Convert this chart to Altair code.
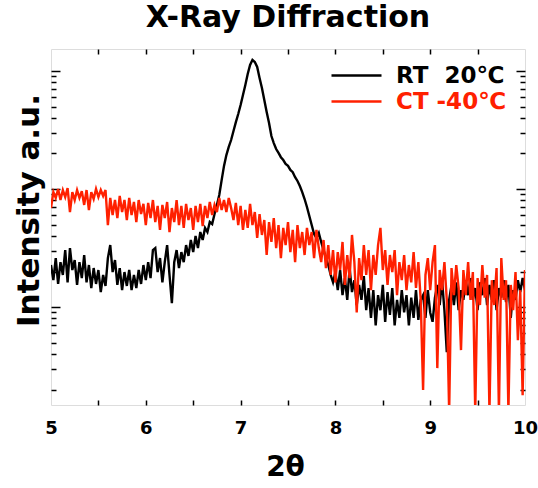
import altair as alt
import pandas as pd

# ---- data ----
TWO_THETA = [round(5 + 0.025 * i, 3) for i in range(201)]

RT_20C = [
    227, 169, 260, 157, 240, 187, 304, 162, 316, 206,
    250, 154, 240, 176, 276, 162, 227, 145, 214, 157,
    206, 134, 187, 151, 260, 335, 198, 250, 154, 214,
    139, 198, 151, 206, 139, 187, 145, 206, 157, 227,
    169, 240, 176, 304, 316, 198, 260, 162, 240, 335,
    187, 108, 240, 304, 214, 292, 240, 335, 271, 370,
    292, 400, 316, 432, 370, 468, 432, 525, 505, 614,
    733, 890, 1190, 1570, 1940, 2270, 2600, 3100, 3690, 4320,
    5150, 6260, 7610, 9430, 11250, 12400, 11920, 10810, 8730, 7180,
    5680, 4490, 3630, 2810, 2450, 2180, 2020, 1860, 1760, 1630,
    1570, 1450, 1390, 1260, 1170, 1060, 942, 823, 704, 590,
    495, 416, 385, 424, 356, 304, 260, 227, 187, 162,
    198, 139, 206, 126, 176, 115, 214, 134, 169, 104,
    154, 115, 183, 94, 145, 81, 139, 70, 126, 94,
    154, 75, 134, 86, 145, 70, 115, 81, 139, 90,
    126, 70, 120, 81, 139, 78, 115, 126, 81, 139,
    90, 75, 120, 154, 104, 169, 94, 41.5, 115, 154,
    104, 162, 94, 139, 115, 169, 126, 176, 115, 145,
    94, 162, 126, 176, 104, 154, 115, 169, 94, 145,
    120, 169, 110, 154, 81, 139, 115, 169, 134, 176,
    139,
]

CT_M40C = [
    690, 942, 840, 1000, 807, 980, 855, 1020, 638, 942,
    807, 980, 840, 960, 733, 980, 664, 942, 823, 1000,
    855, 980, 873, 980, 495, 840, 602, 807, 568, 873,
    638, 807, 546, 840, 602, 776, 525, 807, 614, 748,
    495, 762, 568, 807, 525, 719, 450, 733, 568, 776,
    432, 690, 525, 807, 495, 719, 468, 748, 546, 690,
    450, 719, 525, 748, 485, 719, 568, 776, 602, 733,
    638, 840, 664, 807, 638, 840, 690, 546, 762, 495,
    719, 450, 664, 468, 748, 495, 638, 385, 614, 408,
    546, 276, 525, 356, 568, 316, 495, 260, 468, 335,
    525, 292, 450, 240, 495, 316, 432, 276, 468, 335,
    432, 260, 450, 316, 240, 370, 214, 335, 187, 304,
    162, 292, 206, 356, 154, 276, 176, 408, 240, 90,
    260, 169, 335, 187, 304, 139, 276, 187, 335, 468,
    206, 304, 154, 276, 198, 304, 126, 240, 169, 276,
    139, 227, 162, 292, 145, 240, 115, 19.8, 187, 260,
    139, 240, 335, 30.4, 206, 139, 240, 115, 13, 214,
    126, 227, 145, 43.2, 206, 126, 240, 115, 198, 13,
    176, 104, 227, 120, 187, 13, 169, 104, 214, 13,
    260, 115, 169, 13, 154, 94, 198, 52.5, 139, 17.9,
    206,
]

SERIES = ["RT \u00a020℃", "CT -40℃"]
COLORS = ["#000000", "#ff2000"]

X_LABEL_TICKS = [5, 6, 7, 8, 9, 10]
X_MINOR_TICKS = [5.5, 6, 6.5, 7, 7.5, 8, 8.5, 9, 9.5]
Y_TICKS = [20, 30, 40, 50, 60, 70, 80, 90,
           100, 200, 300, 400, 500, 600, 700, 800, 900,
           1000, 2000, 3000, 4000, 5000, 6000, 7000, 8000, 9000,
           10000]
X_DOMAIN = [5, 10]
Y_DOMAIN = [14.8, 15350]

rows = []
for name, vals in zip(SERIES, [RT_20C, CT_M40C]):
    for t, v in zip(TWO_THETA, vals):
        rows.append({"theta": t, "intensity": v, "series": name})
df = pd.DataFrame(rows)

W, H = 474, 356
FONT = "DejaVu Sans"

xs = alt.Scale(domain=X_DOMAIN, nice=False, zero=False)
ys = alt.Scale(type="log", domain=Y_DOMAIN, nice=False)

major_test = "datum.value == 100 || datum.value == 1000 || datum.value == 10000"
ytick_size = {"condition": {"test": major_test, "value": 9}, "value": 5}

lines = alt.Chart(df).mark_line(strokeWidth=2.4, clip=True).encode(
    x=alt.X("theta:Q", scale=xs,
            axis=alt.Axis(orient="bottom", values=X_LABEL_TICKS, title="2θ",
                          ticks=False, domain=False, grid=False,
                          labelFont=FONT, labelFontSize=18, labelFontWeight="bold",
                          labelColor="black", labelPadding=14, labelFlush=False,
                          titleFont=FONT, titleFontSize=28, titleFontWeight="bold",
                          titleColor="black", titleX=234, titleY=70,
                          titleBaseline="alphabetic", titleAlign="center")),
    y=alt.Y("intensity:Q", scale=ys,
            axis=alt.Axis(orient="left", title="Intensity a.u.", labels=False,
                          ticks=False, domain=False, grid=False,
                          titleFont=FONT, titleFontSize=31, titleFontWeight="bold",
                          titleColor="black", titleX=-13, titleY=161, titleAngle=270,
                          titleBaseline="alphabetic", titleAlign="center")),
    color=alt.Color("series:N", sort=SERIES,
                    scale=alt.Scale(domain=SERIES, range=COLORS),
                    legend=alt.Legend(title=None, orient="none", legendX=279, legendY=15,
                                      symbolType="stroke",
                                      symbolSize=2500, symbolStrokeWidth=2.5,
                                      labelFont=FONT, labelFontSize=23, labelFontWeight="bold",
                                      labelColor={"expr": "datum.label == 'CT -40℃' ? '#ff2000' : '#000000'"},
                                      labelOffset=13, padding=0, rowPadding=2,
                                      clipHeight=23)),
)

# inward ticks: bottom and left edges
ticks_a = alt.Chart(df).mark_line(opacity=0, clip=True).encode(
    x=alt.X("theta:Q", scale=xs,
            axis=alt.Axis(orient="top", offset=-H, values=X_MINOR_TICKS, tickSize=5,
                          tickWidth=1.5, tickColor="black", labels=False, domain=False,
                          grid=False, title="")),
    y=alt.Y("intensity:Q", scale=ys,
            axis=alt.Axis(orient="right", offset=-W, values=Y_TICKS, tickSize=ytick_size,
                          tickWidth=1.5, tickColor="black", labels=False, domain=False,
                          grid=False, title="")),
)

# inward ticks: top and right edges
ticks_b = alt.Chart(df).mark_line(opacity=0, clip=True).encode(
    x=alt.X("theta:Q", scale=xs,
            axis=alt.Axis(orient="bottom", offset=-H, values=X_MINOR_TICKS, tickSize=5,
                          tickWidth=1.5, tickColor="black", labels=False, domain=False,
                          grid=False, title="")),
    y=alt.Y("intensity:Q", scale=ys,
            axis=alt.Axis(orient="left", offset=-W, values=Y_TICKS, tickSize=ytick_size,
                          tickWidth=1.5, tickColor="black", labels=False, domain=False,
                          grid=False, title="")),
)

chart = alt.layer(lines, ticks_a, ticks_b).resolve_axis(
    x="independent", y="independent"
).properties(
    width=W, height=H,
    title=alt.Title("X-Ray Diffraction", font=FONT, fontSize=30, fontWeight="bold",
                    color="black", anchor="middle", frame="group", offset=0, dy=9,
                    baseline="alphabetic"),
    autosize=alt.AutoSizeParams(type="none"),
    padding={"left": 51, "top": 49, "right": 13, "bottom": 83},
).configure_view(
    stroke="black", strokeWidth=2
).configure(background="white")

chart.save("out.html", embed_options={"renderer": "svg", "actions": False})
